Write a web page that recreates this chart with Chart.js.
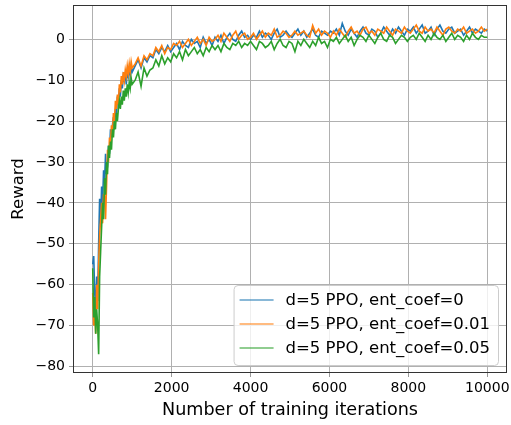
<!DOCTYPE html>
<html lang="en">

<head>
    <meta charset="UTF-8">
    <script src="https://cdn.jsdelivr.net/npm/chart.js"></script>
    <title>Reward curves</title>
    <style>
        body { margin: 0; background: #fff; }
    </style>
</head>

<body>
    <canvas id="myChart" width="511" height="425"></canvas>
    <script>
        // training iterations (denser sampling for the fast rise at the start)
        var iterations = [0, 25, 50, 75, 100, 125, 150, 175, 200, 225, 250, 275, 300, 325, 350, 375, 400, 425, 450, 475, 500,
            525, 550, 575, 600, 625, 650, 675, 700, 725, 750, 775, 800, 825, 850, 875, 900, 925, 950, 975, 1000,
            1075, 1150, 1225, 1300, 1375, 1450, 1525, 1600, 1675, 1750, 1825, 1900, 1975, 2050, 2125, 2200, 2275, 2350,
            2425, 2500, 2575, 2650, 2725, 2800, 2875, 2950, 3025, 3100, 3175, 3250, 3325, 3400, 3475, 3550, 3625, 3700,
            3775, 3850, 3925, 4000, 4075, 4150, 4225, 4300, 4375, 4450, 4525, 4600, 4675, 4750, 4825, 4900, 4975, 5050,
            5125, 5200, 5275, 5350, 5425, 5500, 5575, 5650, 5725, 5800, 5875, 5950, 6025, 6100, 6175, 6250, 6325, 6400,
            6475, 6550, 6625, 6700, 6775, 6850, 6925, 7000, 7075, 7150, 7225, 7300, 7375, 7450, 7525, 7600, 7675, 7750,
            7825, 7900, 7975, 8050, 8125, 8200, 8275, 8350, 8425, 8500, 8575, 8650, 8725, 8800, 8875, 8950, 9025, 9100,
            9175, 9250, 9325, 9400, 9475, 9550, 9625, 9700, 9775, 9850, 9925, 10000]

        var reward_ent0 = [-55, -53, -62, -66, -58, -64, -50, -39, -45, -36, -40, -32, -35, -28, -33, -31, -26, -28, -22, -24, -21,
            -19, -22, -17, -19, -14, -16, -12, -14, -10, -12, -9, -10, -8, -11, -8, -9, -7, -9, -6.5, -8,
            -6.5, -5, -7, -4.5, -5.5, -4,
            -4.5, -2.5, -3.5, -2, -3, -1.5, -3, -2,
            -1, -2.5, -0.5, -1.5, -2, 0, -1, -0.5, -2, 0.5, -1, 0, -1.5,
            0.5, -0.5, 1, -1, 0.5, 1.5, 0, -0.5, 1, 2, 0.5, 1, 0,
            1, 0.5, 2, 0.5, 1.5, 1, 0, 1.5, 2.5, 0.5, 1, 2, 1, 0.5, 1.5, 2.5, 1, 2, 0.5, 1.5, 2.5, 1, 0.5, 2, 1.5, 1, 2,
            1.5, 2.5, 1, 3.9, 2, 1, 2.5, 1.5, 0.5, 2, 3, 1.5, 1, 2.5, 2, 0.5, 1.5, 3, 2, 1, 2.5, 1.5, 3, 2, 1, 2.5,
            2, 3, 1.5, 2.5, 3.5, 1.5, 2, 3, 1, 2.5, 3.5, 2, 1.5, 2.5, 3, 1.5, 2, 2.5, 1, 2, 3, 1.5, 2.5, 2, 1.5, 2.5, 2]

        var reward_ent001 = [-62, -70, -66, -72, -60, -66, -55, -48, -44, -40, -45, -38, -38, -44, -36, -27, -30, -24, -26, -21, -23,
            -18, -20, -15, -17, -13.5, -16, -11, -13, -9, -11, -8, -10, -7.5, -9, -6.5, -8.5, -6, -8, -5.5, -7,
            -6, -4.5, -6.5, -4, -5, -3.5,
            -4, -2, -3, -1.5, -3.5, -2, -2.5, -1,
            -1.5, -0.5, -2, -1, 0, -1.5, -0.5, 0.5, -1, 0, -1.5, 0.5, -0.5,
            0, 1, -0.5, 1.5, 0.5, -0.5, 1, 2, 0, 1, 1.5, 0, 0.5,
            1.5, 0, 1, 2, 0.5, 1.5, 1, 2.5, 0.5, 1, 2, 1.5, 0.5, 1, 2, 1, 1.5, 2, 1, 0.5, 3.4, 1.5, 2.5, 1, 2, 1.5, 0.5,
            2, 1, 2.5, 1.5, 0.5, 2, 3, 1.5, 2, 1, 2.5, 3, 1.5, 2, 1, 2.5, 2, 1.5, 3, 2, 1, 2.5, 2, 1.5, 3, 2,
            1.5, 2.5, 3.5, 2, 1.5, 3, 2, 2.5, 1.5, 3, 2, 1, 2.5, 3, 2, 1.5, 2.5, 2, 3, 1.5, 2, 2.5, 1.5, 2, 3, 2, 2.5]

        var reward_ent005 = [-56, -68, -63, -72, -66, -70, -77, -58, -52, -46, -40, -44, -34, -38, -30, -33, -26, -29, -25, -27, -22,
            -24, -20, -22, -18, -20, -17, -15, -17, -14, -16, -12.5, -15, -12, -14, -11, -13, -10.5, -12, -9.5, -11,
            -10, -8, -11.5, -7, -9, -7.5,
            -7, -5, -6.5, -4, -6, -4.5, -5.5, -3.5,
            -4.5, -3, -5, -2.5, -4, -3, -2, -3.5, -2.5, -4, -2, -3, -1.5,
            -2.5, -1.5, -3, -1, -2, -2.5, -1, -1.5, -0.5, -2, -1, -1.5, -0.5,
            -1.5, -2.5, -0.5, -1, -2, -1.5, -0.5, -2.5, -1, 0, -1.5, -2, -0.5, -1, -3, -0.5, -1.5, 0, -1, -2, -0.5, -1.5, 0.5, -1, -0.5, -2, 0,
            -0.5, 0.5, -1, 0, 1, -0.5, 0.5, -1.5, 0, 1, 0.5, -0.5, 1, 0, -1, 0.5, 1.5, 0, -0.5, 1, 0.5, -1, 0, 1, 0.5, -0.5,
            0.5, 1, 0, 1.5, 0.5, -0.5, 1, 0, 1.5, 0.5, 0, 1, -0.5, 0.5, 1.5, 0, 1, 0.5, -0.5, 1, 0, 1.5, 0.5, 0, 1, 0.5, 0.5]

        var labels = ['d=5 PPO, ent_coef=0', 'd=5 PPO, ent_coef=0.01', 'd=5 PPO, ent_coef=0.05']
        var colors = ['#1f77b4', '#ff7f0e', '#2ca02c']
        var xTicks = [0, 2000, 4000, 6000, 8000, 10000]
        var yTicks = [-80, -70, -60, -50, -40, -30, -20, -10, 0]

        var font = 'DejaVu Sans'

        function points(ys) {
            return iterations.map(function (x, i) { return { x: x, y: ys[i] } })
        }

        function minusSign(v) {
            return String(v).replace('-', '\u2212')
        }

        // box around the plot plus a legend in the lower right corner
        var framePlugin = {
            id: 'frame',
            afterDatasetsDraw: function (chart) {
                var a = chart.chartArea
                var c = chart.ctx
                c.save()
                c.strokeStyle = '#333'
                c.lineWidth = 1
                c.strokeRect(a.left + 0.5, a.top + 0.5, a.right - a.left - 1, a.bottom - a.top - 1)
                c.restore()
            },
            afterDraw: function (chart) {
                var a = chart.chartArea
                var c = chart.ctx
                var sets = chart.data.datasets
                c.save()
                c.font = '16.5px "' + font + '"'
                var maxW = 0
                sets.forEach(function (d) { maxW = Math.max(maxW, c.measureText(d.label).width) })
                var w = 60 + maxW
                var h = 80
                var x0 = a.right - 9 - w
                var y0 = a.bottom - 8 - h
                c.beginPath()
                c.roundRect(x0 + 0.5, y0 + 0.5, w, h, 4)
                c.fillStyle = 'rgba(255,255,255,0.8)'
                c.fill()
                c.strokeStyle = '#cccccc'
                c.lineWidth = 1
                c.stroke()
                sets.forEach(function (d, i) {
                    var y = y0 + 15 + i * 24
                    c.beginPath()
                    c.moveTo(x0 + 6, y)
                    c.lineTo(x0 + 40, y)
                    c.strokeStyle = d.borderColor
                    c.globalAlpha = 0.7
                    c.lineWidth = 1.5
                    c.stroke()
                    c.globalAlpha = 1
                    c.fillStyle = '#000'
                    c.textBaseline = 'middle'
                    c.fillText(d.label, x0 + 52, y + 1)
                })
                c.restore()
            }
        }

        var ctx = document.getElementById('myChart')
        var myChart = new Chart(ctx, {
            type: 'line',
            data: {
                datasets: [
                    { label: labels[0], data: points(reward_ent0), borderColor: colors[0], order: 2 },
                    { label: labels[1], data: points(reward_ent001), borderColor: colors[1], order: 1 },
                    { label: labels[2], data: points(reward_ent005), borderColor: colors[2], order: 0 }
                ]
            },
            options: {
                responsive: false,
                animation: false,
                layout: { padding: { left: 0, right: 4, top: 5, bottom: 0 } },
                elements: {
                    point: { radius: 0 },
                    line: { borderWidth: 1.6, tension: 0 }
                },
                plugins: {
                    legend: { display: false },
                    tooltip: { enabled: false }
                },
                scales: {
                    x: {
                        type: 'linear',
                        min: -500,
                        max: 10500,
                        afterBuildTicks: function (s) { s.ticks = xTicks.map(function (v) { return { value: v } }) },
                        afterFit: function (s) {
                            s.height = 52
                            s.paddingLeft = 0
                            s.paddingRight = 0
                        },
                        ticks: {
                            font: { family: font, size: 14 },
                            color: '#000',
                            maxRotation: 0,
                            padding: 3,
                            callback: function (v) { return minusSign(v) }
                        },
                        grid: { color: '#b0b0b0', tickColor: '#999', tickLength: 4 },
                        border: { display: false },
                        title: {
                            display: true,
                            text: 'Number of training iterations',
                            font: { family: font, size: 17.6 },
                            color: '#000',
                            padding: { top: 5 }
                        }
                    },
                    y: {
                        type: 'linear',
                        min: -81.6,
                        max: 8.4,
                        afterBuildTicks: function (s) { s.ticks = yTicks.map(function (v) { return { value: v } }) },
                        afterFit: function (s) {
                            s.width = 73
                            s.paddingTop = 0
                            s.paddingBottom = 0
                        },
                        ticks: {
                            font: { family: font, size: 14 },
                            color: '#000',
                            padding: 4,
                            callback: function (v) { return minusSign(v) }
                        },
                        grid: { color: '#b0b0b0', tickColor: '#999', tickLength: 4 },
                        border: { display: false },
                        title: {
                            display: true,
                            text: 'Reward',
                            font: { family: font, size: 16.5 },
                            color: '#000',
                            padding: { top: 9 }
                        }
                    }
                }
            },
            plugins: [framePlugin]
        })
    </script>

</body>

</html>
